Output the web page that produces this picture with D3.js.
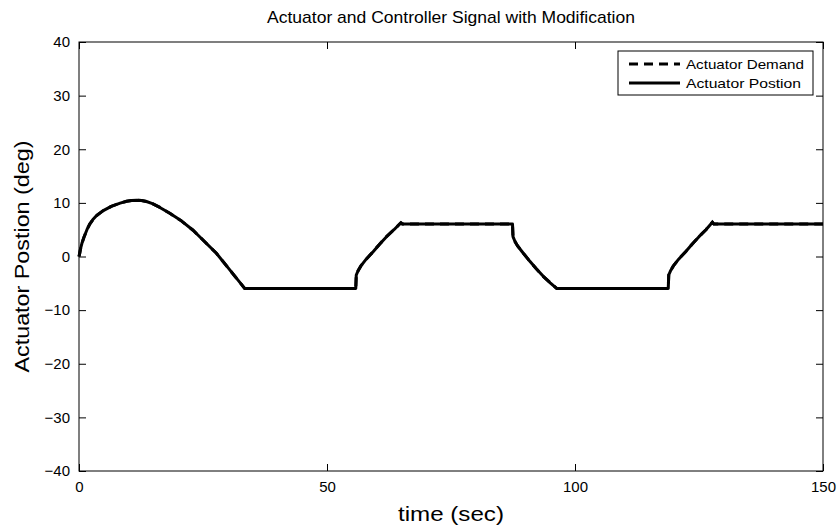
<!DOCTYPE html>
<html>
<head>
<meta charset="utf-8">
<script src="https://cdn.jsdelivr.net/npm/d3@7"></script>
<style>
  body { margin: 0; background: #fff; }
  svg { font-family: "Liberation Sans", Arial, sans-serif; }
</style>
</head>
<body>
<svg id="chart" width="840" height="529"></svg>
<script>
// values
const timeSec = [0, 0.1, 0.3, 0.6, 1, 1.6, 2.2, 2.9, 3.5, 4.8, 6.5, 8.3, 9.6, 10.6, 11.6, 12.6, 13.6, 14.8, 16.3, 18.3, 20.7, 23, 25.3, 27.7, 30.4, 33.4,
  55.8, 55.9, 56.3, 56.8, 57.9, 59.3, 60.6, 62, 63.5, 64.9, 65.2,
  87.4, 87.5, 87.9, 88.4, 89.5, 90.9, 92.2, 93.6, 95, 96.3,
  118.8, 118.9, 119.3, 119.8, 120.9, 122.3, 123.6, 125, 126.4, 127.7, 128, 150];
const demandDeg = [0, 0.4, 1.4, 2.5, 3.6, 5.0, 6.1, 7.0, 7.6, 8.5, 9.35, 9.95, 10.3, 10.45, 10.5, 10.45, 10.25, 9.85, 9.15, 8.05, 6.6, 4.9, 2.8, 0.6, -2.5, -5.95,
  -5.95, -3.45, -2.6, -1.8, -0.5, 0.9, 2.3, 3.7, 5.0, 6.3, 6.05,
  6.05, 3.7, 2.8, 2.0, 0.7, -0.9, -2.3, -3.7, -4.9, -5.95,
  -5.95, -3.45, -2.6, -1.8, -0.5, 0.9, 2.3, 3.7, 5.0, 6.4, 6.05, 6.05];
const positionDeg = demandDeg.slice();
const xTicks = [0, 50, 100, 150];
const yTicks = [-40, -30, -20, -10, 0, 10, 20, 30, 40];
const seriesNames = ["Actuator Demand", "Actuator Postion"];

const svg = d3.select("#chart");
const m = {left: 79, right: 17, top: 42, bottom: 58};
const W = 840 - m.left - m.right, H = 529 - m.top - m.bottom;

const x = d3.scaleLinear().domain([0, 150]).range([0, W]);
const y = d3.scaleLinear().domain([-40, 40]).range([H, 0]);

const g = svg.append("g").attr("transform", `translate(${m.left},${m.top})`);

// axes, MATLAB style: ticks inside, on all four sides
const fmt = d => d < 0 ? "\u2212" + Math.abs(d) : String(d);
const tick = 7;
g.append("g").attr("transform", `translate(0,${H})`)
  .call(d3.axisBottom(x).tickValues(xTicks).tickSizeInner(-tick).tickSizeOuter(0).tickPadding(10).tickFormat(fmt));
g.append("g")
  .call(d3.axisTop(x).tickValues(xTicks).tickSizeInner(-tick).tickSizeOuter(0).tickFormat(""));
g.append("g")
  .call(d3.axisLeft(y).tickValues(yTicks).tickSizeInner(-tick).tickSizeOuter(0).tickPadding(9).tickFormat(fmt));
g.append("g").attr("transform", `translate(${W},0)`)
  .call(d3.axisRight(y).tickValues(yTicks).tickSizeInner(-tick).tickSizeOuter(0).tickFormat(""));
g.selectAll(".domain").remove();
g.selectAll(".tick line").attr("stroke", "#000");
g.selectAll(".tick text").attr("font-size", 15).attr("fill", "#000");

g.append("rect").attr("width", W).attr("height", H)
  .attr("fill", "none").attr("stroke", "#000").attr("stroke-width", 1);

const line = d3.line().x(d => x(d[0])).y(d => y(d[1]));

g.append("path")
  .datum(d3.zip(timeSec, demandDeg))
  .attr("d", line)
  .attr("fill", "none").attr("stroke", "#000").attr("stroke-width", 3)
  .attr("stroke-dasharray", "9,6");

g.append("path")
  .datum(d3.zip(timeSec, positionDeg))
  .attr("d", line)
  .attr("fill", "none").attr("stroke", "#000").attr("stroke-width", 3)
  .attr("stroke-linejoin", "round");

// legend
const lg = svg.append("g").attr("transform", "translate(618,51)");
lg.append("rect").attr("width", 195).attr("height", 44)
  .attr("fill", "#fff").attr("stroke", "#000").attr("stroke-width", 1);
seriesNames.forEach((name, i) => {
  const yy = 13 + i * 19;
  lg.append("line").attr("x1", 11).attr("x2", 62).attr("y1", yy).attr("y2", yy)
    .attr("stroke", "#000").attr("stroke-width", 3)
    .attr("stroke-dasharray", i === 0 ? "9,6" : null);
  lg.append("text").attr("x", 68).attr("y", yy).attr("dy", "0.35em")
    .attr("font-size", 13).attr("textLength", i === 0 ? 118 : 115)
    .attr("lengthAdjust", "spacingAndGlyphs").text(name);
});

// titles
svg.append("text").attr("x", m.left + W / 2).attr("y", 23)
  .attr("text-anchor", "middle").attr("font-size", 17)
  .attr("textLength", 368).attr("lengthAdjust", "spacingAndGlyphs")
  .text("Actuator and Controller Signal with Modification");
svg.append("text").attr("x", m.left + W / 2).attr("y", 521)
  .attr("text-anchor", "middle").attr("font-size", 20)
  .attr("textLength", 106).attr("lengthAdjust", "spacingAndGlyphs").text("time (sec)");
svg.append("text")
  .attr("transform", `translate(29,${m.top + H / 2}) rotate(-90)`)
  .attr("text-anchor", "middle").attr("font-size", 20)
  .attr("textLength", 232).attr("lengthAdjust", "spacingAndGlyphs").text("Actuator Postion (deg)");
</script>
</body>
</html>
